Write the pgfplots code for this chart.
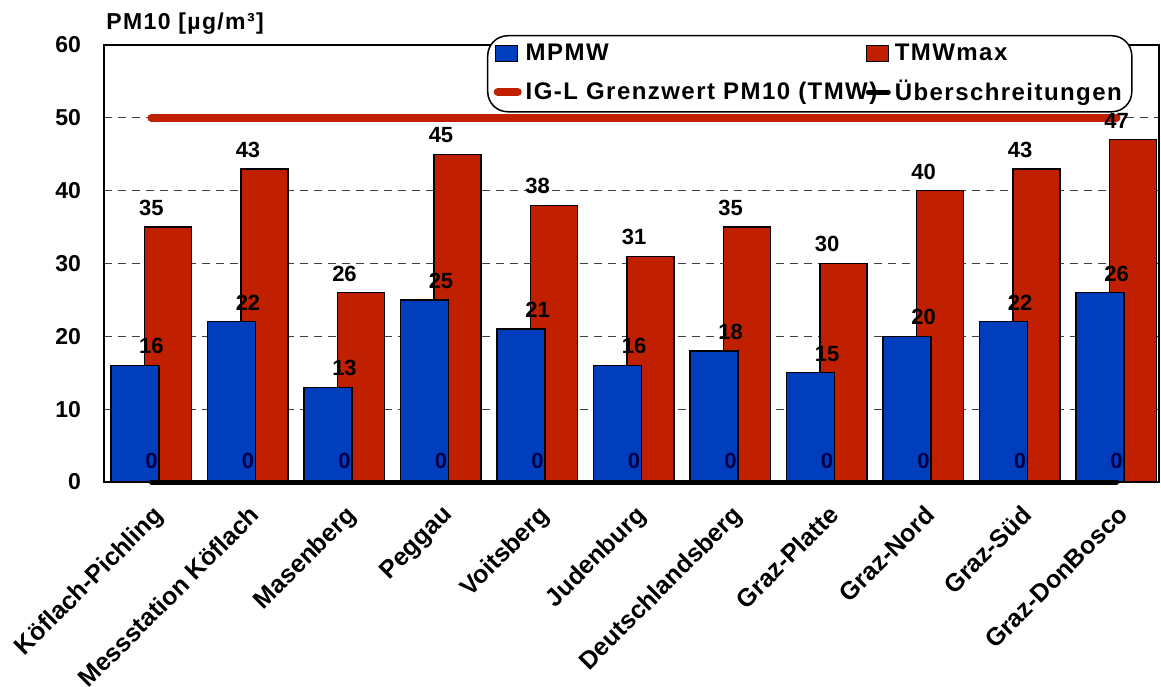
\documentclass[border=0pt]{standalone}
\usepackage{fontspec}
\setmainfont{Liberation Sans}
\newfontfamily\legfont{Liberation Sans}[LetterSpace=6]
\usepackage{pgfplots}
\pgfplotsset{compat=1.18}

\definecolor{mpmwblue}{RGB}{0,62,190}
\definecolor{tmwred}{RGB}{192,32,0}
\definecolor{zeronavy}{RGB}{0,0,70}

\begin{document}
\begin{tikzpicture}
  \begin{axis}[
      name=ax,
      scale only axis,
      width=527.5pt, height=218.5pt,
      xmin=-0.492, xmax=10.44,
      ymin=0, ymax=60,
      ytick={0,10,...,60},
      xtick={0,...,10},
      xticklabels={Köflach-Pichling, Messstation Köflach, Masenberg, Peggau,
        Voitsberg, Judenburg, Deutschlandsberg, Graz-Platte, Graz-Nord,
        Graz-Süd, Graz-DonBosco},
      major tick length=0pt,
      ymajorgrids=true,
      grid style={dash pattern=on 4pt off 3pt, black!75, line width=0.5pt},
      axis line style={line width=0.75pt},
      clip=false,
      /pgf/number format/assume math mode=true,
      yticklabel style={font=\bfseries\fontsize{11.5}{13}\selectfont, xshift=-8pt},
      xticklabel style={font=\bfseries\fontsize{12.5}{14}\selectfont, yshift=-6pt, rotate=45, anchor=north east},
      legend style={at={(0.363,1.0229)}, anchor=north west, draw=black,
        line width=0.75pt, rounded corners=10pt, fill=white,
        font=\legfont\bfseries\fontsize{12}{14}\selectfont,
        legend columns=2, legend cell align=left, row sep=4.5pt},
    ]
    % grenzwert line
    \addplot[forget plot, tmwred, line width=4pt, line cap=round, mark=none]
      coordinates {(0,50) (1,50) (2,50) (3,50) (4,50) (5,50) (6,50) (7,50) (8,50) (9,50) (10,50)};
    % TMWmax
    \addplot[forget plot, ybar, bar width=0.49, bar shift=0.171, fill=tmwred, draw=black, line width=0.7pt,
        nodes near coords, every node near coord/.append style={font=\bfseries\fontsize{11}{13}\selectfont, text=black, yshift=2pt}]
      coordinates {(0,35) (1,43) (2,26) (3,45) (4,38) (5,31) (6,35) (7,30) (8,40) (9,43) (10,47)};
    % MPMW
    \addplot[forget plot, ybar, bar width=0.5, bar shift=-0.171, fill=mpmwblue, draw=black, line width=0.7pt,
        nodes near coords, every node near coord/.append style={font=\bfseries\fontsize{11}{13}\selectfont, text=black, yshift=2pt}]
      coordinates {(0,16) (1,22) (2,13) (3,25) (4,21) (5,16) (6,18) (7,15) (8,20) (9,22) (10,26)};
    % Ueberschreitungen
    \addplot[forget plot, black, line width=2.5pt, line cap=round, mark=none,
        nodes near coords, every node near coord/.append style={font=\bfseries\fontsize{11}{13}\selectfont, text=zeronavy, yshift=2pt}]
      coordinates {(0,0) (1,0) (2,0) (3,0) (4,0) (5,0) (6,0) (7,0) (8,0) (9,0) (10,0)};

    \addlegendimage{no markers, legend image code/.code={\draw[sharp corners, fill=mpmwblue, draw=black, line width=0.6pt] (0pt,-4pt) rectangle (11pt,4pt);}}
    \addlegendentry{\makebox[168pt][l]{MPMW}}
    \addlegendimage{no markers, legend image code/.code={\draw[sharp corners, fill=tmwred, draw=black, line width=0.6pt] (0pt,-4pt) rectangle (11pt,4pt);}}
    \addlegendentry{TMWmax}
    \addlegendimage{no markers, legend image code/.code={\draw[sharp corners, tmwred, line width=4pt, line cap=round] (1pt,0pt) -- (11pt,0pt);}}
    \addlegendentry{\makebox[168pt][l]{IG-L Grenzwert PM10 (TMW)}}
    \addlegendimage{no markers, legend image code/.code={\draw[sharp corners, black, line width=2.5pt, line cap=round] (1pt,0pt) -- (11pt,0pt);}}
    \addlegendentry{Überschreitungen}
  \end{axis}
  \node[anchor=base west, font=\legfont\bfseries\fontsize{11.5}{13}\selectfont, inner sep=0pt]
    at ([shift={(1pt,7.5pt)}]ax.north west) {PM10 [µg/m³]};
  \pgfresetboundingbox
  \path ([shift={(-52pt,-102pt)}]ax.south west) rectangle ([shift={(1pt,22.5pt)}]ax.north east);
\end{tikzpicture}
\end{document}
